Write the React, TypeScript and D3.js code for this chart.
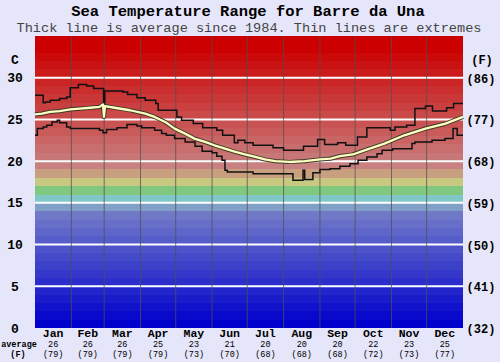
import * as d3 from 'd3'

const W = 500
const H = 362

const months = ['Jan', 'Feb', 'Mar', 'Apr', 'May', 'Jun', 'Jul', 'Aug', 'Sep', 'Oct', 'Nov', 'Dec']
const monthDays = [31, 28, 31, 30, 31, 30, 31, 31, 30, 31, 30, 31]
const avgC = [26, 26, 26, 25, 23, 21, 20, 20, 20, 22, 23, 25]
const avgF = [79, 79, 79, 79, 73, 70, 68, 68, 68, 72, 73, 77]

const cTicks = [0, 5, 10, 15, 20, 25, 30]
const fTicks = [32, 41, 50, 59, 68, 77, 86]

// [day of year, °C]
const avgSeries: [number, number][] = [
  [0, 25.6], [6, 25.7], [13, 25.9], [21, 26.0], [30, 26.2], [38, 26.3], [47, 26.4], [55, 26.5],
  [58, 26.8], [58.8, 25.3], [59.7, 26.6], [68, 26.4], [81, 26.1], [94, 25.7], [102, 25.3],
  [111, 24.7], [119, 23.9], [128, 23.3], [136, 22.7], [145, 22.3], [153, 21.9], [162, 21.5],
  [171, 21.1], [179, 20.8], [188, 20.5], [196, 20.2], [205, 20.0], [217, 19.9], [230, 20.0],
  [243, 20.2], [252, 20.3], [260, 20.6], [271, 20.8], [281, 21.3], [298, 22.1], [315, 23.1],
  [333, 23.9], [350, 24.5], [365, 25.3],
]

const maxSeries: [number, number][] = [
  [0, 27.9], [7, 27.0], [9, 27.1], [13, 27.3], [21, 27.5], [27, 27.7], [30, 28.8], [37, 29.2],
  [44, 29.0], [50, 28.7], [58.5, 26.6], [59.5, 28.4], [75, 28.3], [79, 28.0], [87, 27.6],
  [94, 27.3], [103, 26.9], [105, 26.1], [121, 25.3], [125, 24.9], [135, 24.5], [143, 24.0],
  [155, 23.7], [160, 23.1], [170, 22.2], [173, 22.5], [179, 22.2], [186, 21.9], [203, 21.6],
  [212, 21.3], [229, 21.8], [241, 22.6], [247, 22.0], [258, 22.2], [265, 21.9], [275, 22.9],
  [283, 24.0], [303, 23.7], [307, 24.1], [317, 24.3], [324, 26.3], [333, 26.6], [339, 26.0],
  [351, 26.4], [357, 26.9], [365, 26.9],
]

const minSeries: [number, number][] = [
  [0, 23.1], [2, 23.9], [7, 24.1], [10, 24.3], [14.5, 24.7], [19, 24.9], [21, 24.6], [27, 24.1],
  [30, 23.9], [55, 23.7], [58, 23.4], [61, 23.8], [70, 24.0], [78.5, 24.4], [87, 24.2], [91, 24.0],
  [102, 23.7], [108, 23.3], [112, 23.1], [119, 22.7], [128, 22.3], [136.5, 21.8], [142.5, 21.2],
  [151, 21.0], [155, 20.6], [159.5, 20.1], [162, 18.9], [164, 18.7], [186, 18.5], [220, 17.7],
  [228.6, 18.9], [230, 17.8], [237, 18.6], [243, 19.0], [251.6, 19.1], [260, 19.4], [268.6, 19.7],
  [275.5, 20.1], [283, 20.5], [291.7, 20.9], [296, 21.3], [305, 21.5], [321.5, 22.1], [324, 22.3],
  [338.6, 22.5], [349.6, 22.7], [356.5, 23.9], [360, 23.1], [365, 23.1],
]

// background band colours, one per degree (lower bound)
const midBands: Record<number, string> = {
  14: '#80a0c8',
  15: '#80c8c8',
  16: '#80c880',
  17: '#c8c880',
  18: '#c8a080',
}

function bandColor(t: number) {
  if (midBands[t]) return midBands[t]
  if (t < 14) return d3.interpolateRgb('#0000cc', '#7078c8')(t / 13)
  return d3.interpolateRgb('#c88080', '#cc0000')(Math.min((t - 19) / 14, 1))
}

export default function App() {
  const margin = { top: 36, right: 37, bottom: 34, left: 35 }
  const x = d3.scaleLinear().domain([0, 365]).range([margin.left, W - margin.right])
  const y = d3.scaleLinear().domain([0, 35]).range([H - margin.bottom, margin.top])

  const bands = d3.range(0, 35)
  const bounds = Array.from(d3.cumsum(monthDays))
  const starts = [0, ...bounds.slice(0, 11)]

  const line = d3.line<[number, number]>().x(d => x(d[0])).y(d => y(d[1]))
  const step = d3.line<[number, number]>().x(d => x(d[0])).y(d => y(d[1])).curve(d3.curveStepAfter)

  const mono = '"Liberation Mono", "Courier New", monospace'

  return (
    <div style={{ position: 'absolute', left: 0, top: 0 }}>
      <svg width={W} height={H} style={{ display: 'block' }}>
        <rect width={W} height={H} fill="#e6e6fa" />

        <text x={248} y={16} textAnchor="middle" fontFamily={mono} fontWeight="bold" fontSize={15.5} fill="#000">
          Sea Temperature Range for Barre da Una
        </text>
        <text x={249} y={32} textAnchor="middle" fontFamily={mono} fontSize={13.6} fill="#444">
          Thick line is average since 1984. Thin lines are extremes
        </text>

        {bands.map(t => (
          <rect
            key={t}
            x={x(0)}
            y={y(t + 1)}
            width={x(365) - x(0)}
            height={y(t) - y(t + 1)}
            fill={bandColor(t)}
            shapeRendering="crispEdges"
          />
        ))}

        {cTicks.slice(1).map(t => (
          <line key={t} x1={x(0)} x2={x(365)} y1={y(t)} y2={y(t)} stroke="#fff" strokeWidth={2} />
        ))}

        {bounds.slice(0, 11).map((b, i) => (
          <line key={i} x1={x(b)} x2={x(b)} y1={y(35)} y2={y(0)} stroke="#505050" strokeOpacity={0.75} strokeWidth={1} />
        ))}

        <path d={step(maxSeries) ?? ''} fill="none" stroke="#111" strokeWidth={1.5} />
        <path d={step(minSeries) ?? ''} fill="none" stroke="#111" strokeWidth={1.5} />
        <path d={line(avgSeries) ?? ''} fill="none" stroke="#3a3a2a" strokeWidth={4.2} strokeLinejoin="round" />
        <path d={line(avgSeries) ?? ''} fill="none" stroke="#ffffc0" strokeWidth={2.3} strokeLinejoin="round" />

        <text x={15} y={64} textAnchor="middle" fontFamily={mono} fontWeight="bold" fontSize={13} fill="#000">C</text>
        <text x={482} y={64} textAnchor="middle" fontFamily={mono} fontWeight="bold" fontSize={12} fill="#000">(F)</text>

        {cTicks.map(t => (
          <text key={t} x={15} y={y(t) + 4.5} textAnchor="middle" fontFamily={mono} fontWeight="bold" fontSize={13} fill="#000">
            {t}
          </text>
        ))}
        {fTicks.map((f, i) => (
          <text key={f} x={481} y={y(cTicks[i]) + 5} textAnchor="middle" fontFamily={mono} fontWeight="bold" fontSize={12} fill="#000">
            ({f})
          </text>
        ))}

        {months.map((m, i) => {
          const cx = x(starts[i] + monthDays[i] / 2)
          return (
            <g key={m} fontFamily={mono} textAnchor="middle" fill="#000">
              <text x={cx} y={337} fontWeight="bold" fontSize={11.5}>{m}</text>
              <text x={cx} y={346.5} fontSize={8.5}>{avgC[i]}</text>
              <text x={cx} y={356.5} fontSize={8.5}>({avgF[i]})</text>
            </g>
          )
        })}
        <text x={19} y={346.5} textAnchor="middle" fontFamily={mono} fontWeight="bold" fontSize={8.5} fill="#000">average</text>
        <text x={18} y={356.5} textAnchor="middle" fontFamily={mono} fontWeight="bold" fontSize={8.5} fill="#000">(F)</text>
      </svg>
    </div>
  )
}
